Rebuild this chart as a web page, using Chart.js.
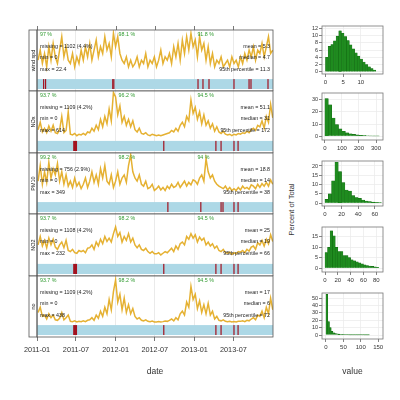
<!DOCTYPE html>
<html>
<head>
<meta charset="utf-8">
<script src="https://cdn.jsdelivr.net/npm/chart.js@4.4.1/dist/chart.umd.min.js"></script>
<style>
body{margin:0;background:#fff;width:400px;height:400px;position:relative;overflow:hidden;font-family:"Liberation Sans",Arial,sans-serif}
canvas{position:absolute}
.lab{position:absolute;color:#333;font-size:8px;white-space:nowrap}
</style>
</head>
<body>
<div class="lab" style="left:251px;top:205px;width:80px;text-align:center;font-size:7.5px;transform:rotate(-90deg)">Percent of Total</div>
<script>
// series names and 10-day values (2011-01 .. 2013-12)
const panelNames = ['wind spd', 'NOx', 'PM10', 'NO2', 'no'];
const stepDays = 10;
const wsValues = [5,8,4, 7,3,9, 5,10,6, 4,8,12, 6,9,5, 4,7,3, 6,4,8, 5,9,6, 10,5,8, 11,6,9, 7,12,8, 10,6,13,
  9,12,7,5, 4,6,3, 5,3,4, 6,3,5, 4,7,3, 5,4,6, 3,5,8, 4,6,5, 7,4,9, 6,10,5, 11,7,12, 8,13,9,
  11,6,12, 8,10,5, 9,4,7, 3,5,4, 6,3,4, 5,3,6, 4,5,3, 6,4,7, 5,8,6, 9,5,8, 7,10,6, 9,12,7,8];
const noxValues = [60,110,45, 70,40,85, 50,90,40, 35,60,150, 40,55,180, 30,25,35, 20,30,25, 35,25,45, 40,70,50, 90,60,130, 80,150,100, 200,120,310,
  280,160,220,110, 150,90,130, 80,120,60, 45,70,35, 30,40,25, 20,30,25, 20,25,20, 25,30,35, 40,55,45, 70,50,90, 110,80,150, 120,260,170,
  210,130,180, 100,160,90, 120,70,100, 50,80,45, 35,50,30, 25,30,20, 30,25,35, 30,40,35, 50,40,60, 70,55,90, 80,120,70, 150,110,230,140];
const pm10Values = [30,55,25, 45,28,60, 35,50,40, 58,30,45, 25,40,22, 30,20,35, 22,28,18, 25,35,20, 30,45,28, 40,25,50, 35,55,30, 25,40,20,
  30,45,25,35, 40,28,55, 72,45,35, 30,40,25, 22,30,18, 20,25,15, 18,22,16, 20,15,22, 18,25,20, 22,28,20, 25,30,22, 28,24,32,
  30,25,35, 40,30,66, 45,35,40, 30,25,22, 20,18,22, 16,20,15, 18,15,20, 16,22,18, 20,17,24, 22,18,25, 20,26,22, 28,22,32,25];
const no2Values = [30,45,28, 38,25,42, 30,40,26, 22,30,35, 25,38,20, 18,22,16, 15,20,18, 20,16,24, 25,30,22, 35,28,40, 32,45,36, 42,35,50,
  62,45,52,35, 45,38,50, 35,42,30, 25,30,22, 20,24,18, 15,18,14, 14,16,12, 15,18,16, 20,24,18, 28,22,32, 35,30,45, 40,50,42,
  48,35,44, 38,42,30, 35,28,32, 24,28,20, 18,22,16, 15,17,13, 16,14,18, 17,20,16, 22,19,26, 28,22,34, 30,38,28, 40,32,48,36];
const noValues = [40,60,25, 30,15,35, 20,30,12, 10,18,40, 12,20,30, 6,5,8, 4,6,5, 8,5,10, 12,20,10, 30,18,45, 25,60,35, 90,50,120,
  165,80,110,50, 95,40,70, 35,55,25, 15,20,10, 8,12,6, 5,7,4, 4,5,4, 5,7,6, 10,15,8, 20,12,35, 45,30,80, 60,140,90,
  110,55,85, 40,70,35, 75,30,45, 15,25,10, 8,12,6, 5,6,4, 5,4,6, 6,8,5, 10,8,15, 20,12,30, 25,45,20, 60,35,95,50];
const allSeries = [wsValues, noxValues, pm10Values, no2Values, noValues];
const yMax = [14, 320, 75, 85, 180];

// summary statistics
const yearPct = [[97, 98.1, 91.8], [93.7, 96.2, 94.5], [99.2, 98.2, 94], [93.7, 98.2, 94.5], [93.7, 98.2, 94.5]];
const missingN = [1102, 1109, 756, 1108, 1109];
const missingPct = [4.4, 4.2, 2.9, 4.2, 4.2];
const minVals = [0, 0, 0, 0, 0];
const maxVals = [22.4, 614, 349, 232, 438];
const meanVals = [5.3, 51.1, 18.8, 25, 17];
const medianVals = [4.7, 31, 14, 19, 6];
const p95Vals = [11.3, 172, 38, 66, 72];

// missing-data periods, [start day, end day] from 2011-01-01
const missing = [
  [[28,30],[37,39],[349,351],[354,356],[745,747],[768,770],[796,798],[912,914],[982,984],[991,993],[1070,1072]],
  [[168,186],[586,588],[828,831],[852,855],[912,915],[931,934]],
  [[605,607],[758,760],[852,855],[861,864],[912,915],[931,934]],
  [[168,186],[586,588],[828,831],[852,855],[912,915],[931,934]],
  [[168,186],[586,588],[828,831],[852,855],[912,915],[931,934]]
];

const tickDays = [0, 181, 365, 547, 731, 912];
const tickLabels = ['2011-01', '2011-07', '2012-01', '2012-07', '2013-01', '2013-07'];
const yearStartDays = [0, 365, 731];
const endDay = 1096;

// histograms (percent of total)
const histStart = [0, 0, 0, 0, 0];
const histWidth = [0.75, 20, 4, 4, 5];
const histPct = [
  [4, 7, 7.5, 8.5, 9.8, 11.3, 10.6, 9.7, 8.6, 7.4, 6.3, 5.2, 4.3, 3.5, 2.7, 2.0, 1.4, 0.9, 0.5],
  [31, 26, 15, 9.5, 6, 4, 2.8, 2, 1.4, 1, 0.7, 0.5, 0.35, 0.25, 0.18, 0.12],
  [2, 5, 12, 22, 17, 11, 7, 6.5, 4, 3, 2.5, 1.6, 1.1, 0.8, 0.5, 0.4, 0.3],
  [7.5, 10, 18, 15.5, 10, 8, 8, 6, 6, 5, 4, 3.5, 3, 2.5, 2, 1.5, 1.2, 1, 0.8, 0.6, 0.4],
  [55, 18, 10, 5, 3, 2, 1.5, 1.1, 0.8, 0.6, 0.5, 0.4, 0.3, 0.25, 0.2, 0.15, 0.12, 0.1, 0.08, 0.06, 0.05, 0.04, 0.03, 0.02, 0.02]
];
const histXTicks = [[0, 5, 10], [0, 100, 200, 300], [0, 20, 40, 60], [0, 20, 40, 60, 80], [0, 50, 100, 150]];
const histYTicks = [[0, 2, 4, 6, 8, 10, 12], [0, 10, 20, 30], [0, 5, 10, 15, 20], [0, 5, 10, 15], [0, 10, 20, 30, 40, 50]];
const histXRange = [[-1, 16.3], [-17, 341], [-3.6, 70], [-4.7, 90.6], [-11.5, 164]];
const histYRange = [[-0.6, 12.6], [-3.2, 35.7], [-1.6, 22.7], [-1.9, 19.8], [-5.4, 56.8]];

// layout
const panelTops = [30, 91, 153, 214, 276];
const panelH = [61, 62, 61, 62, 61];
const histTops = [26, 93, 161, 227, 293];
const histBottoms = [74, 140, 206, 272, 339];

const FONT = '"Liberation Sans", Arial, sans-serif';

const panelDeco = {
  id: 'panelDeco',
  beforeDatasetsDraw(chart, args, o) {
    const { ctx, scales: { x, y } } = chart;
    const M = yMax[o.index];
    const yT = y.getPixelForValue(-0.046 * M), yB = y.getPixelForValue(-0.258 * M);
    const x0 = x.getPixelForValue(0), x1 = x.getPixelForValue(endDay);
    ctx.save();
    ctx.fillStyle = '#add8e6';
    ctx.fillRect(x0, yT, x1 - x0, yB - yT);
    ctx.fillStyle = '#a3121f';
    missing[o.index].forEach(m => {
      const p0 = x.getPixelForValue(m[0]), p1 = x.getPixelForValue(m[1]);
      ctx.fillRect(p0, yT, Math.max(p1 - p0, 1.2), yB - yT);
    });
    ctx.restore();
  },
  afterDraw(chart, args, o) {
    const { ctx, chartArea: a, scales: { x } } = chart;
    const i = o.index;
    ctx.save();
    ctx.strokeStyle = '#555';
    ctx.lineWidth = 0.8;
    ctx.strokeRect(a.left, a.top, a.right - a.left, a.bottom - a.top);
    ctx.strokeRect(a.left - 8, a.top, 8, a.bottom - a.top);
    if (i === 0) {
      ctx.beginPath();
      tickDays.forEach(d => {
        const px = Math.round(x.getPixelForValue(d)) + 0.5;
        ctx.moveTo(px, a.top); ctx.lineTo(px, a.top - 4);
      });
      ctx.stroke();
    }
    // strip label
    ctx.fillStyle = '#222';
    ctx.font = '5.5px ' + FONT;
    ctx.textAlign = 'center';
    ctx.textBaseline = 'middle';
    ctx.translate(a.left - 4, (a.top + a.bottom) / 2);
    ctx.rotate(-Math.PI / 2);
    ctx.fillText(panelNames[i], 0, 0);
    ctx.setTransform(1, 0, 0, 1, 0, 0);
    // annotations
    ctx.font = '5.3px ' + FONT;
    ctx.textAlign = 'left';
    ctx.fillStyle = '#2f9a2f';
    yearStartDays.forEach((d, k) => ctx.fillText(yearPct[i][k] + ' %', x.getPixelForValue(d) + 3, a.top + 5));
    ctx.fillStyle = '#222';
    ctx.fillText('missing = ' + missingN[i] + ' (' + missingPct[i] + '%)', a.left + 3, a.top + 17);
    ctx.fillText('min = ' + minVals[i], a.left + 3, a.top + 28);
    ctx.fillText('max = ' + maxVals[i], a.left + 3, a.top + 40);
    ctx.textAlign = 'right';
    ctx.fillText('mean = ' + meanVals[i], a.right - 3, a.top + 17);
    ctx.fillText('median = ' + medianVals[i], a.right - 3, a.top + 28);
    ctx.fillText('95th percentile = ' + p95Vals[i], a.right - 3, a.top + 40);
    if (o.title) {
      ctx.font = '8.5px ' + FONT;
      ctx.textAlign = 'center';
      ctx.fillStyle = '#333';
      ctx.fillText(o.title, (a.left + a.right) / 2, a.bottom + 35);
    }
    ctx.restore();
  }
};

const histFrame = {
  id: 'histFrame',
  afterDraw(chart, args, o) {
    const { ctx, chartArea: a } = chart;
    ctx.save();
    ctx.strokeStyle = '#777';
    ctx.lineWidth = 0.8;
    ctx.strokeRect(a.left, a.top, a.right - a.left, a.bottom - a.top);
    if (o.title) {
      ctx.font = '8.5px ' + FONT;
      ctx.textAlign = 'center';
      ctx.textBaseline = 'middle';
      ctx.fillStyle = '#333';
      ctx.fillText(o.title, (a.left + a.right) / 2, a.bottom + 33);
    }
    ctx.restore();
  }
};

function addCanvas(left, top, w, h) {
  const c = document.createElement('canvas');
  c.width = w; c.height = h;
  c.style.left = left + 'px'; c.style.top = top + 'px';
  document.body.appendChild(c);
  return c;
}

allSeries.forEach((vals, i) => {
  const last = i === allSeries.length - 1;
  const padTop = 5;
  const axisH = last ? 42 : 0;
  const c = addCanvas(16, panelTops[i] - padTop, 258, padTop + panelH[i] + axisH);
  new Chart(c, {
    type: 'line',
    data: {
      datasets: [{
        data: vals.map((v, k) => ({ x: k * stepDays + stepDays / 2, y: v })),
        borderColor: 'rgba(226,168,28,0.9)',
        borderWidth: 1.5,
        pointRadius: 0,
        fill: false,
        tension: 0
      }]
    },
    options: {
      animation: false,
      responsive: false,
      events: [],
      layout: { padding: { left: 21, right: 1, top: padTop, bottom: 0 } },
      plugins: { legend: { display: false }, tooltip: { enabled: false }, panelDeco: { index: i, title: last ? 'date' : '' } },
      scales: {
        x: {
          type: 'linear', min: 0, max: endDay,
          grid: { color: '#e4e4e4', lineWidth: 0.8, drawTicks: last, tickLength: 4, tickColor: '#555' },
          border: { display: false },
          ticks: {
            display: last, autoSkip: false, maxRotation: 0, padding: 5,
            font: { size: 7.3, family: FONT }, color: '#333',
            callback: v => tickLabels[tickDays.indexOf(v)]
          },
          afterBuildTicks: s => { s.ticks = tickDays.map(v => ({ value: v })); },
          afterFit: s => { s.height = axisH; s.paddingLeft = 0; s.paddingRight = 0; }
        },
        y: { display: false, min: -0.3 * yMax[i], max: yMax[i] }
      }
    },
    plugins: [panelDeco]
  });
});

histPct.forEach((pct, i) => {
  const last = i === histPct.length - 1;
  const padTop = 4, axisH = last ? 42 : 13, yW = 30;
  const h = histBottoms[i] - histTops[i];
  const c = addCanvas(322 - yW, histTops[i] - padTop, yW + 61 + 7, padTop + h + axisH);
  new Chart(c, {
    type: 'bar',
    data: {
      datasets: [{
        data: pct.map((p, k) => ({ x: histStart[i] + histWidth[i] * (k + 0.5), y: p })),
        backgroundColor: '#1f8b1f',
        borderColor: '#126612',
        borderWidth: 0.4,
        barPercentage: 1,
        categoryPercentage: 1,
        grouped: false
      }]
    },
    options: {
      animation: false,
      responsive: false,
      events: [],
      layout: { padding: { left: 0, right: 7, top: padTop, bottom: 0 } },
      plugins: { legend: { display: false }, tooltip: { enabled: false }, histFrame: { title: last ? 'value' : '' } },
      scales: {
        x: {
          type: 'linear', offset: false, min: histXRange[i][0], max: histXRange[i][1],
          grid: { offset: false, color: '#ececec', lineWidth: 0.8, tickLength: 3, tickColor: '#666' },
          border: { display: false },
          ticks: { autoSkip: false, maxRotation: 0, padding: 2, font: { size: 6, family: FONT }, color: '#333' },
          afterBuildTicks: s => { s.ticks = histXTicks[i].map(v => ({ value: v })); },
          afterFit: s => { s.height = axisH; s.paddingLeft = 0; s.paddingRight = 0; }
        },
        y: {
          min: histYRange[i][0], max: histYRange[i][1],
          grid: { color: '#ececec', lineWidth: 0.8, tickLength: 3, tickColor: '#666' },
          border: { display: false },
          ticks: { autoSkip: false, padding: 1, font: { size: 5.5, family: FONT }, color: '#333' },
          afterBuildTicks: s => { s.ticks = histYTicks[i].map(v => ({ value: v })); },
          afterFit: s => { s.width = yW; s.paddingTop = 0; s.paddingBottom = 0; }
        }
      }
    },
    plugins: [histFrame]
  });
});
</script>
</body>
</html>
